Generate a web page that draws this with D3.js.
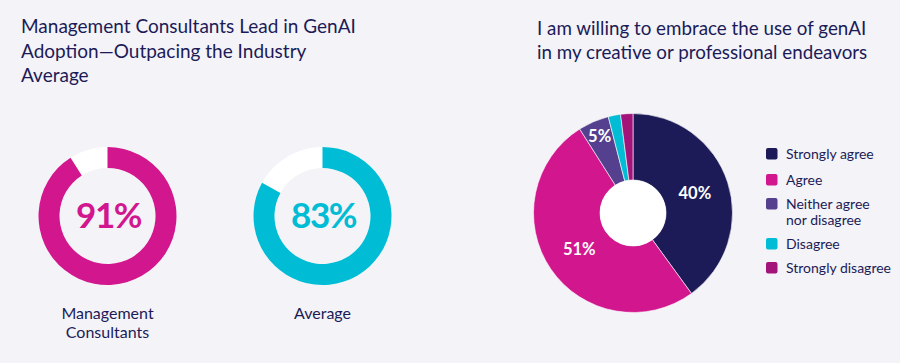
<!DOCTYPE html>
<meta charset="utf-8">
<head>
    <script src="https://d3js.org/d3.v7.min.js"></script>
    <style>
        body { margin: 0; background: #f3f3f8; font-family: Lato, "Open Sans", sans-serif; }
        svg { display: block; }
    </style>
</head>
<body>
    <div id="chart"></div>
    <script>
        // left: adoption rings
        var ringLabels = [["Management", "Consultants"], ["Average"]];
        var ringValues = [91, 83];
        var ringColors = ["#d2168e", "#00bcd4"];

        // right: sentiment pie
        var pieCategories = ["Strongly agree", "Agree", "Neither agree nor disagree", "Disagree", "Strongly disagree"];
        var pieValues = [40, 51, 5, 2, 2];
        var pieColors = ["#1c1b57", "#d2168e", "#55408f", "#00bcd4", "#a3147a"];
        var legendLines = [["Strongly agree"], ["Agree"], ["Neither agree", "nor disagree"], ["Disagree"], ["Strongly disagree"]];

        var width = 900, height = 363;
        var navy = "#1c1b57";

        var svg = d3.select("#chart").append("svg")
            .attr("width", width)
            .attr("height", height);

        // titles
        var leftTitle = ["Management Consultants Lead in GenAI", "Adoption\u2014Outpacing the Industry", "Average"];
        svg.append("text")
            .attr("x", 21).attr("y", 33)
            .attr("fill", navy)
            .style("font-size", "19px")
            .selectAll("tspan").data(leftTitle).join("tspan")
            .attr("x", 21)
            .attr("dy", function(d, i) { return i == 0 ? 0 : 24.5; })
            .text(function(d) { return d; });

        var rightTitle = ["I am willing to embrace the use of genAI", "in my creative or professional endeavors"];
        svg.append("text")
            .attr("x", 537).attr("y", 35)
            .attr("fill", navy)
            .style("font-size", "18.8px")
            .selectAll("tspan").data(rightTitle).join("tspan")
            .attr("x", 537)
            .attr("dy", function(d, i) { return i == 0 ? 0 : 24; })
            .text(function(d) { return d; });

        // rings
        var ringX = d3.scalePoint().domain(d3.range(ringValues.length)).range([107.5, 322.5]);
        var pct = d3.scaleLinear().domain([0, 100]).range([0, 2 * Math.PI]);
        var ringArc = d3.arc().innerRadius(48).outerRadius(69);

        ringValues.forEach(function(v, i) {
            var g = svg.append("g")
                .attr("transform", "translate(" + ringX(i) + "," + 216 + ")");
            g.append("path")
                .attr("d", ringArc({ startAngle: 0, endAngle: 2 * Math.PI }))
                .attr("fill", "#ffffff");
            g.append("path")
                .attr("d", ringArc({ startAngle: 0, endAngle: pct(v) }))
                .attr("fill", ringColors[i]);
            g.append("text")
                .attr("text-anchor", "middle")
                .attr("x", 1)
                .attr("y", 11.5)
                .attr("fill", ringColors[i])
                .style("font-size", "35px")
                .style("font-weight", "bold")
                .style("letter-spacing", "-1.5px")
                .text(v + "%");
            g.append("text")
                .attr("text-anchor", "middle")
                .attr("fill", navy)
                .style("font-size", "16px")
                .selectAll("tspan").data(ringLabels[i]).join("tspan")
                .attr("x", 0)
                .attr("y", function(d, j) { return 103 + j * 18.5; })
                .text(function(d) { return d; });
        });

        // pie
        var pie = d3.pie().sort(null).value(function(d) { return d; });
        var arcs = pie(pieValues);
        var pieArc = d3.arc().innerRadius(33).outerRadius(99.5);
        var labelArc = d3.arc().innerRadius(65).outerRadius(65);
        var smallLabelArc = d3.arc().innerRadius(84).outerRadius(84);

        var pg = svg.append("g").attr("transform", "translate(633,213)");
        pg.selectAll("path").data(arcs).join("path")
            .attr("d", pieArc)
            .attr("fill", function(d, i) { return pieColors[i]; })
            .attr("stroke", "#ffffff")
            .attr("stroke-width", 0.6);
        pg.append("circle").attr("r", 33).attr("fill", "#ffffff");

        pg.selectAll("text.lbl").data(arcs.filter(function(d) { return d.value >= 5; })).join("text")
            .attr("class", "lbl")
            .attr("transform", function(d) {
                var c = (d.value < 10) ? smallLabelArc.centroid(d) : labelArc.centroid(d);
                return "translate(" + c + ")";
            })
            .attr("text-anchor", "middle")
            .attr("dy", "0.35em")
            .attr("fill", "#ffffff")
            .style("font-size", "16.5px")
            .style("font-weight", "bold")
            .text(function(d) { return d.value + "%"; });

        // legend
        var rowY = [154, 180, 204, 244, 268];
        var lg = svg.append("g");
        pieCategories.forEach(function(c, i) {
            lg.append("rect")
                .attr("x", 766).attr("y", rowY[i] - 6)
                .attr("width", 11.5).attr("height", 11.5)
                .attr("rx", 2)
                .attr("fill", pieColors[i]);
            lg.append("text")
                .attr("fill", navy)
                .style("font-size", "14px")
                .selectAll("tspan").data(legendLines[i]).join("tspan")
                .attr("x", 786)
                .attr("y", function(d, j) { return rowY[i] + 5 + j * 16; })
                .text(function(d) { return d; });
        });
    </script>
</body>
